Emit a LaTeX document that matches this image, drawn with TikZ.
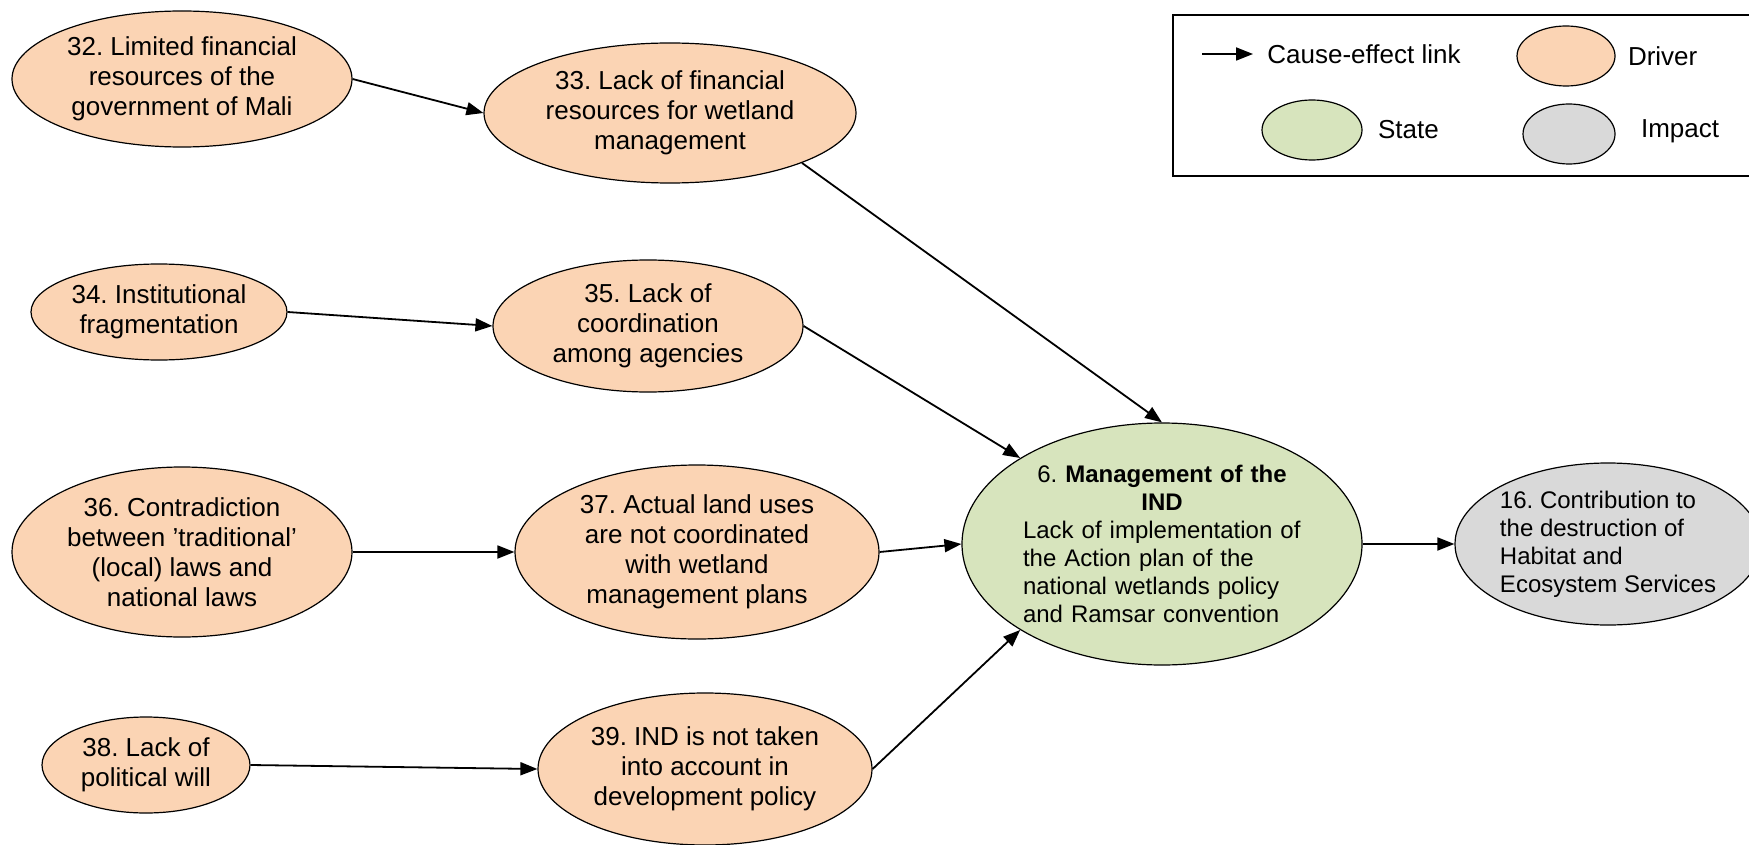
\documentclass[tikz,border=0pt]{standalone}
\usepackage{fontspec}
\setmainfont{Liberation Sans}
\usepackage{tikz}
\usetikzlibrary{shapes.geometric,arrows.meta,positioning}
\definecolor{dpsdriver}{RGB}{251,212,180}
\definecolor{dpsstate}{RGB}{215,228,189}
\definecolor{dpsimpact}{RGB}{217,217,217}
\frenchspacing

\begin{document}
\begin{tikzpicture}[x=0.5pt, y=-0.5pt,
  drvbox/.style={ellipse, draw, line width=0.6pt, fill=dpsdriver, inner sep=0pt,
    align=center, font={\fontsize{13}{15}\selectfont}},
  statebox/.style={ellipse, draw, line width=0.6pt, fill=dpsstate, inner sep=0pt,
    font={\fontsize{12}{14}\selectfont}},
  impbox/.style={ellipse, draw, line width=0.6pt, fill=dpsimpact, inner sep=0pt,
    align=left, font={\fontsize{12}{14}\selectfont}},
  keytext/.style={inner sep=0pt, font={\fontsize{13}{15}\selectfont}},
  link/.style={->, >={Triangle[length=8.5pt,width=6.5pt]}, line width=0.9pt}]

  \useasboundingbox (0,0) rectangle (1749,845);
  \clip (0,0) rectangle (1749,845);

  % Row 1
  \node[drvbox, minimum width=170pt, minimum height=68pt] (limfin) at (182,79)
    {32. Limited financial\\ resources of the\\ government of Mali};
  \node[drvbox, minimum width=186pt, minimum height=70pt] (finres) at (670,113)
    {33. Lack of financial\\ resources for wetland\\ management};

  % Row 2
  \node[drvbox, minimum width=128pt, minimum height=48pt] (instfrag) at (159,312)
    {34. Institutional\\ fragmentation};
  \node[drvbox, minimum width=155pt, minimum height=66pt] (coord) at (648,326)
    {35. Lack of\\ coordination\\ among agencies};

  % Row 3
  \node[drvbox, minimum width=170pt, minimum height=85pt] (contra) at (182,552)
    {36. Contradiction\\ between ’traditional’\\ (local) laws and\\ national laws};
  \node[drvbox, minimum width=182pt, minimum height=87pt] (landuse) at (697,552)
    {37. Actual land uses\\ are not coordinated\\ with wetland\\ management plans};

  % Row 4
  \node[drvbox, minimum width=104pt, minimum height=48pt] (polwill) at (146,765)
    {38. Lack of\\ political will};
  \node[drvbox, minimum width=167pt, minimum height=76pt] (devpol) at (705,769)
    {39. IND is not taken\\ into account in\\ development policy};

  % State and impact
  \node[statebox, text width=139pt, minimum width=200pt, minimum height=121pt] (mgmt) at (1162,544)
    {\centering 6. \textbf{Management of the}\\ \textbf{IND}\par
     \raggedright\noindent\hbox{Lack of implementation of}\\ the Action plan of the\\
     national wetlands policy\\ and Ramsar convention};
  \node[impbox, minimum width=153pt, minimum height=81pt] (habitat) at (1608,544)
    {16. Contribution to\\ the destruction of\\ Habitat and\\ Ecosystem Services};

  % Cause-effect links
  \draw[link] (limfin.east)      -- (finres.west);
  \draw[link] (instfrag.east)    -- (coord.west);
  \draw[link] (contra.east)      -- (landuse.west);
  \draw[link] (polwill.east)     -- (devpol.west);
  \draw[link] (finres.south east) -- (mgmt.north);
  \draw[link] (coord.east)       -- (mgmt.north west);
  \draw[link] (landuse.east)     -- (mgmt.west);
  \draw[link] (devpol.east)      -- (mgmt.south west);
  \draw[link] (mgmt.east)        -- (habitat.west);

  % Legend
  \node[draw, line width=0.8pt, fill=white, inner sep=0pt, anchor=north west,
    minimum width=294pt, minimum height=80.5pt] (keyframe) at (1172,14) {};
  \coordinate (keyA) at (1202,54);
  \coordinate (keyB) at (1253,54);
  \draw[link] (keyA) -- (keyB);
  \node[keytext, right=7pt of keyB] (keylink) {Cause-effect link};
  \node[drvbox, minimum width=49pt, minimum height=30pt] (keydrv) at (1566,56) {};
  \node[keytext, right=6pt of keydrv] (keydrvtxt) {Driver};
  \node[statebox, minimum width=50pt, minimum height=30pt] (keystate) at (1312,130) {};
  \node[keytext, right=7.5pt of keystate] (keystatetxt) {State};
  \node[impbox, minimum width=46pt, minimum height=30pt] (keyimp) at (1569,134) {};
  \node[keytext, right=12.5pt of keyimp, yshift=1.5pt] (keyimptxt) {Impact};
\end{tikzpicture}
\end{document}
